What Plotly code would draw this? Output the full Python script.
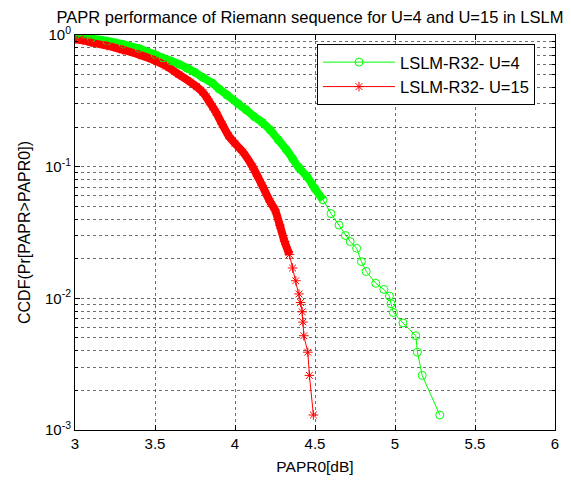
import plotly.graph_objects as go

# ---- data ----
u4_papr = [3.00, 3.03, 3.10, 3.20, 3.30, 3.40, 3.50, 3.55, 3.60, 3.65, 3.70, 3.75,
           3.80, 3.86, 3.90, 3.95, 4.02, 4.07, 4.12, 4.17, 4.22, 4.27, 4.32, 4.36,
           4.40, 4.45, 4.50, 4.55, 4.60, 4.65, 4.69, 4.72, 4.76, 4.79, 4.82, 4.88,
           4.93, 4.965, 4.975, 4.99, 5.05, 5.13, 5.14, 5.17, 5.28]
u4_ccdf = [0.99, 0.97, 0.94, 0.90, 0.85, 0.79, 0.71, 0.67, 0.635, 0.60, 0.56, 0.52,
           0.475, 0.43, 0.39, 0.35, 0.30, 0.27, 0.24, 0.217, 0.19, 0.16, 0.135, 0.115,
           0.098, 0.084, 0.068, 0.056, 0.044, 0.036, 0.030, 0.027, 0.024, 0.019, 0.016, 0.013,
           0.0117, 0.0104, 0.0091, 0.0078, 0.0065, 0.0052, 0.0039, 0.0026, 0.0013]

u15_papr = [3.00, 3.05, 3.10, 3.20, 3.30, 3.40, 3.50, 3.57, 3.65, 3.72, 3.76, 3.80,
            3.82, 3.84, 3.86, 3.88, 3.92, 3.96, 4.00, 4.05, 4.11, 4.14, 4.17, 4.22,
            4.25, 4.28, 4.31, 4.34, 4.36, 4.38, 4.40, 4.41, 4.42, 4.425, 4.43, 4.455,
            4.465, 4.49]
u15_ccdf = [0.93, 0.91, 0.88, 0.83, 0.77, 0.71, 0.64, 0.58, 0.50, 0.44, 0.405, 0.365,
            0.34, 0.31, 0.285, 0.26, 0.21, 0.172, 0.15, 0.129, 0.10, 0.085, 0.072, 0.054,
            0.047, 0.036, 0.027, 0.0215, 0.017, 0.0136, 0.0108, 0.0093, 0.0079, 0.0066, 0.0052, 0.0039,
            0.0026, 0.0013]

# number of leading points where the markers overlap into a solid band
u4_dense = 28
u15_dense = 28

x_ticks = [3, 3.5, 4, 4.5, 5, 5.5, 6]
x_ticktext = ["3", "3.5", "4", "4.5", "5", "5.5", "6"]
y_ticks = [0.001, 0.01, 0.1, 1]
y_ticktext = ["10<sup>-3</sup>", "10<sup>-2</sup>", "10<sup>-1</sup>", "10<sup>0</sup>"]

GREEN = "#00ff00"
RED = "#ff0000"
FONT = "Liberation Sans, Arial, sans-serif"

fig = go.Figure()

# dense band portions (overlapping markers)
fig.add_trace(go.Scatter(x=u4_papr[:u4_dense], y=u4_ccdf[:u4_dense], mode="lines",
                         line=dict(color=GREEN, width=8, shape="spline", smoothing=0.8),
                         showlegend=False, hoverinfo="skip"))
fig.add_trace(go.Scatter(x=u15_papr[:u15_dense], y=u15_ccdf[:u15_dense], mode="lines",
                         line=dict(color=RED, width=8, shape="spline", smoothing=0.8),
                         showlegend=False, hoverinfo="skip"))

fig.add_trace(go.Scatter(x=u4_papr, y=u4_ccdf, mode="lines+markers", name="LSLM-R32- U=4",
                         line=dict(color=GREEN, width=1),
                         marker=dict(symbol="circle-open", size=8, color=GREEN, line=dict(width=1))))
fig.add_trace(go.Scatter(x=u15_papr, y=u15_ccdf, mode="lines+markers", name="LSLM-R32- U=15",
                         line=dict(color=RED, width=1),
                         marker=dict(symbol="asterisk-open", size=8, color=RED, line=dict(width=1, color=RED))))

grid = "rgba(60,60,60,0.75)"
minor_vals = [k * 10.0 ** e for e in range(-3, 0) for k in range(2, 10)]

# page has an 8px body margin, so the figure is sized to the remaining window
W, H = 563, 477

fig.update_layout(
    width=W, height=H,
    margin=dict(l=67, r=16, t=27, b=51),
    paper_bgcolor="white", plot_bgcolor="white",
    font=dict(family=FONT, size=15, color="black"),
    title=dict(text="PAPR performance of Riemann sequence for U=4 and U=15 in LSLM",
               x=302 / W, xref="container", xanchor="center",
               y=1 - 9 / H, yref="container", yanchor="middle",
               font=dict(family=FONT, size=16.5, color="black")),
    xaxis=dict(range=[3, 6], tickvals=x_ticks, ticktext=x_ticktext,
               showline=True, linecolor="black", linewidth=1, mirror="ticks",
               ticks="inside", ticklen=5, tickcolor="black",
               showgrid=True, gridcolor=grid, griddash="dot", gridwidth=1,
               zeroline=False, tickfont=dict(size=15),
               title=dict(text="PAPR0[dB]", standoff=10, font=dict(size=15.5))),
    yaxis=dict(type="log", range=[-3, 0], tickvals=y_ticks, ticktext=y_ticktext,
               showline=True, linecolor="black", linewidth=1, mirror="ticks",
               ticks="inside", ticklen=5, tickcolor="black",
               showgrid=True, gridcolor=grid, griddash="dot", gridwidth=1,
               minor=dict(tickvals=minor_vals, ticks="inside", ticklen=3, tickcolor="black",
                          showgrid=True, gridcolor=grid, griddash="dot", gridwidth=1),
               zeroline=False, tickfont=dict(size=15),
               title=dict(text="CCDF(Pr[PAPR>PAPR0])", standoff=10, font=dict(size=16))),
    legend=dict(x=(317 - 75) / 480, y=(434 - 44) / 399, xanchor="left", yanchor="top",
                bgcolor="white", bordercolor="black", borderwidth=1,
                font=dict(family=FONT, size=16.5, color="black"),
                itemwidth=72, tracegroupgap=0),
    showlegend=True,
)

fig.write_html("out.html")
